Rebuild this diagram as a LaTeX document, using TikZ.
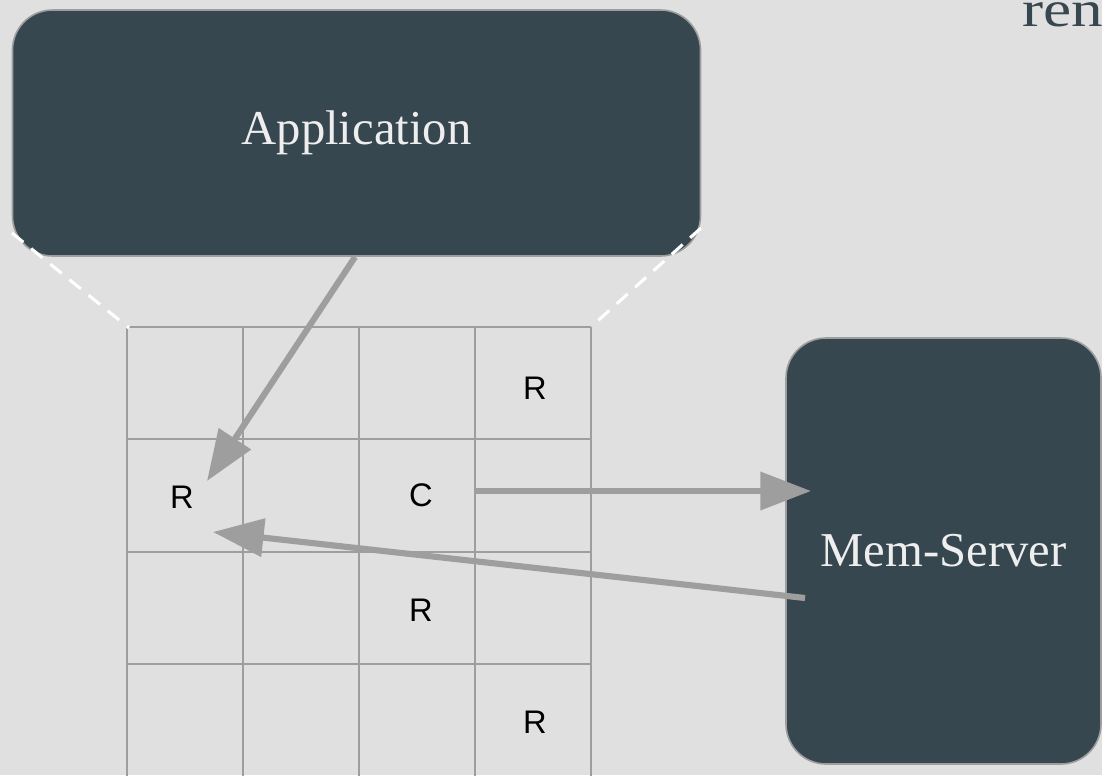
\documentclass[tikz,border=0pt]{standalone}
\usepackage{fontspec}
\setmainfont{Liberation Serif}
\newfontfamily\cellfont{Liberation Sans}
\usetikzlibrary{arrows.meta}

\definecolor{bgGray}{HTML}{E0E0E0}
\definecolor{slate}{HTML}{37474F}
\definecolor{edgeGray}{HTML}{9E9E9E}
\definecolor{lightText}{HTML}{EEEEEE}

\tikzset{
  darkbox/.style={draw=edgeGray, line width=1.2pt, fill=slate, rounded corners=30pt,
    inner sep=0pt, text=lightText, font=\fontsize{36.5}{40}\selectfont},
  gridline/.style={draw=edgeGray, line width=1.1pt},
  cellmark/.style={font=\cellfont\fontsize{24.5}{28}\selectfont, text=black, inner sep=0pt},
  flow/.style={draw=edgeGray, line width=4.6pt,
    -{Triangle[length=38pt, width=28pt]}, shorten <=0pt},
  zoomedge/.style={draw=white, line width=2.3pt, dash pattern=on 11pt off 7.5pt},
}

\begin{document}
\begin{tikzpicture}[x=0.75pt, y=-0.75pt]
  \useasboundingbox (0,0) rectangle (1102,775);
  \clip (0,0) rectangle (1102,775);
  \fill[bgGray] (0,0) rectangle (1102,775);

  % partial heading in the top right corner
  \node[anchor=base west, inner sep=0pt, text=slate, font=\fontsize{38}{42}\selectfont]
    (heading) at (1022,26) {\scalebox{1.25}[1]{ren}};

  % cell grid
  \foreach \gx in {127,243,359,475,591}
    \draw[gridline] (\gx,327) -- (\gx,780);
  \foreach \gy in {327,439,552,664}
    \draw[gridline] (127,\gy) -- (591,\gy);

  % cell contents
  \node[cellmark] (r1) at (535,388) {R};
  \node[cellmark] (r2) at (182,497) {R};
  \node[cellmark] (c1) at (421,495) {C};
  \node[cellmark] (r3) at (421,610) {R};
  \node[cellmark] (r4) at (535,722) {R};

  % application and memory server
  \node[darkbox, minimum width=516pt, minimum height=184.5pt] (app) at (356.5,133) {Application};
  \node[darkbox, minimum width=236.25pt, minimum height=319.5pt] (mem) at (943.5,551) {Mem-Server};

  % the grid is a zoomed view of the application
  \coordinate (appBL) at (12,233);
  \coordinate (appBR) at (701,228);
  \coordinate (gridTL) at (129,328);
  \coordinate (gridTR) at (592,326);
  \draw[zoomedge] (appBL) -- (gridTL);
  \draw[zoomedge] (appBR) -- (gridTR);

  % request and reply flows
  \coordinate (appOut) at (355,257);
  \coordinate (rIn) at (207,481);
  \coordinate (cOut) at (474,491);
  \coordinate (memIn) at (811,491);
  \coordinate (memOut) at (805,598);
  \coordinate (rBack) at (213,532);
  \draw[flow] (appOut) -- (rIn);
  \draw[flow] (cOut) -- (memIn);
  \draw[flow] (memOut) -- (rBack);
\end{tikzpicture}
\end{document}
